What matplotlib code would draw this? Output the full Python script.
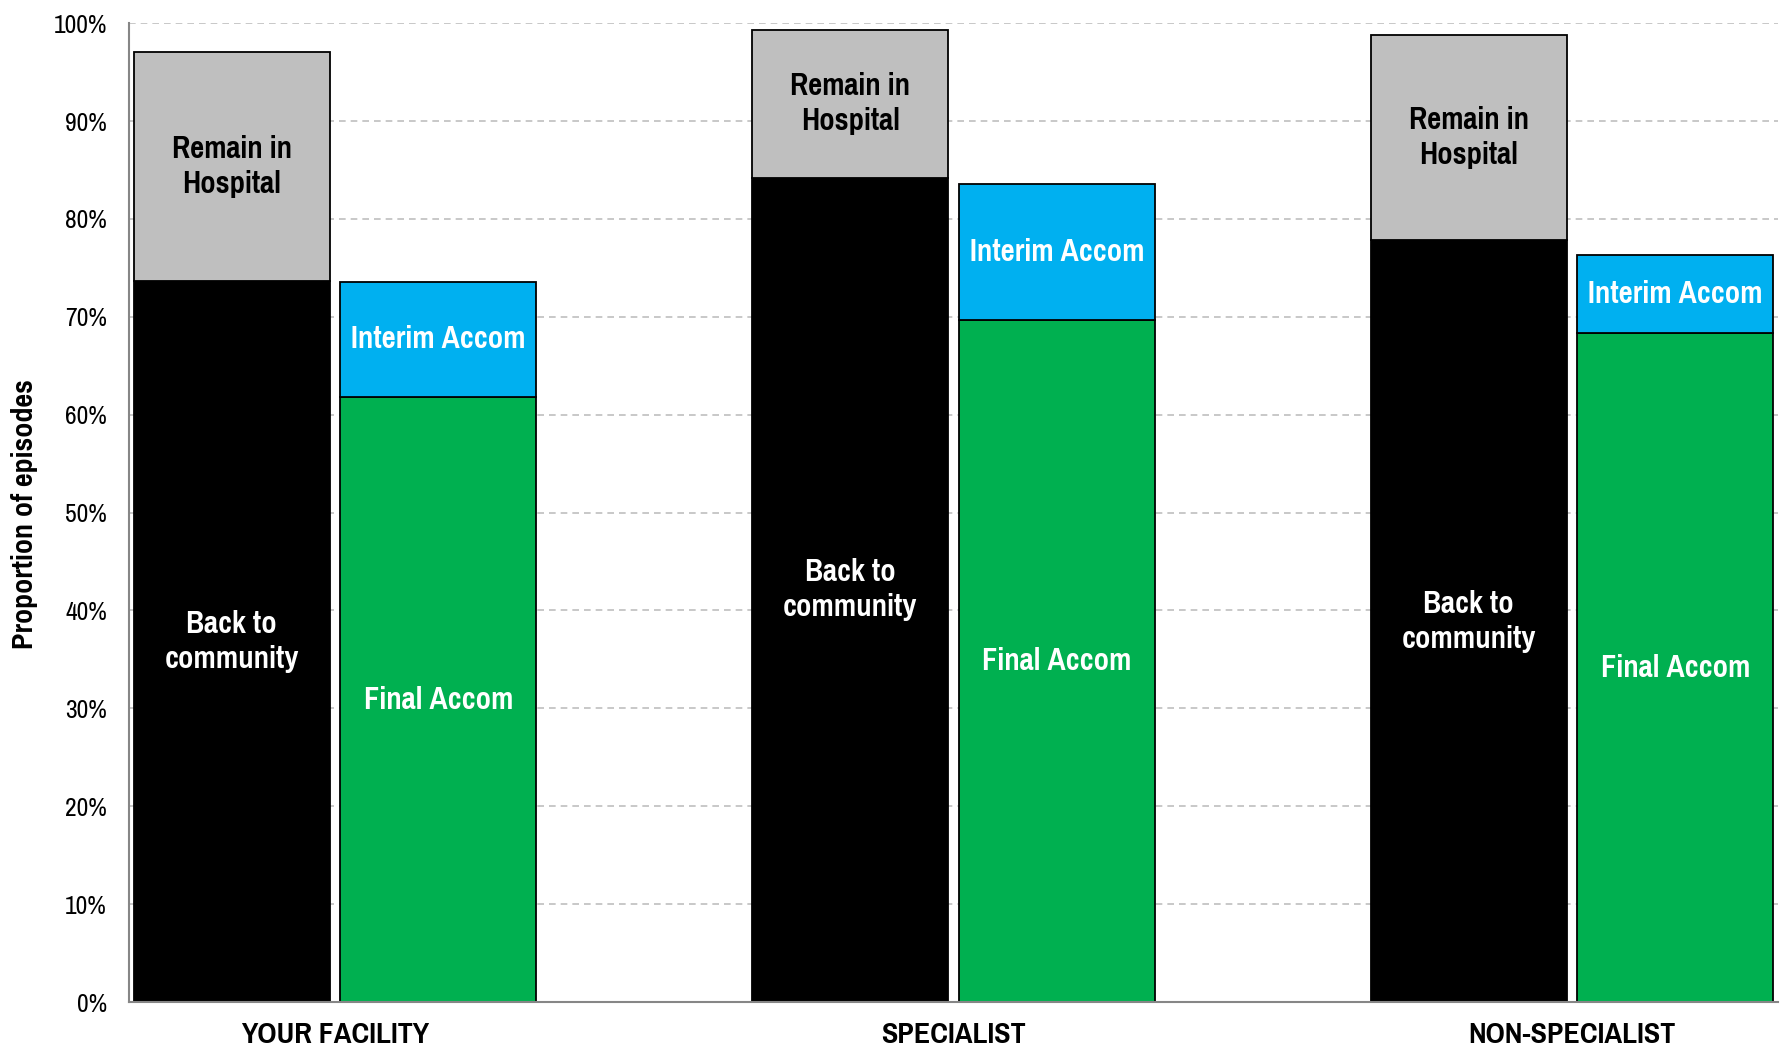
import matplotlib
matplotlib.use("Agg")
import matplotlib.pyplot as plt
import numpy as np

categories = ["YOUR FACILITY", "SPECIALIST", "NON-SPECIALIST"]
back_to_community = [73.7, 84.2, 77.8]
remain_in_hospital = [23.4, 15.1, 21.0]
final_accom = [61.8, 69.7, 68.3]
interim_accom = [11.8, 13.9, 8.0]
yticks = [0, 10, 20, 30, 40, 50, 60, 70, 80, 90, 100]

plt.rcParams["font.family"] = ["Pragati Narrow", "Liberation Sans", "DejaVu Sans"]

fig = plt.figure(figsize=(17.87, 10.52), dpi=100)
ax = fig.add_axes([0.0722, 0.0475, 0.9228, 0.9305])

x = np.arange(len(categories))
w = 0.317
off = 0.167
ec = dict(edgecolor="black", linewidth=1.3)
ax.bar(x - off, back_to_community, w, color="#000000", **ec)
ax.bar(x - off, remain_in_hospital, w, bottom=back_to_community, color="#BFBFBF", **ec)
ax.bar(x + off, final_accom, w, color="#00B050", **ec)
ax.bar(x + off, interim_accom, w, bottom=final_accom, color="#00B0F0", **ec)

lab = dict(ha="center", va="center", fontsize=24, fontweight="bold", linespacing=1.3)
for i in range(len(categories)):
    ax.text(x[i] - off, back_to_community[i] / 2, "Back to\ncommunity", color="white", **lab)
    ax.text(x[i] - off, back_to_community[i] + remain_in_hospital[i] / 2, "Remain in\nHospital", color="black", **lab)
    ax.text(x[i] + off, final_accom[i] / 2, "Final Accom", color="white", **lab)
    ax.text(x[i] + off, final_accom[i] + interim_accom[i] / 2, "Interim Accom", color="white", **lab)

ax.set_xlim(-0.333, 2.333)
ax.set_ylim(0, 100)
ax.set_yticks(yticks)
ax.set_yticklabels([f"{v}%" for v in yticks], fontsize=20)
ax.set_xticks(x)
ax.set_xticklabels(categories, fontsize=23.5, fontweight="bold")
ax.tick_params(axis="y", length=0, pad=16)
ax.tick_params(axis="x", length=0, pad=14)
ax.yaxis.grid(True, linestyle=(0, (4, 3)), color="#BFBFBF", linewidth=1.2)
ax.set_axisbelow(True)
for s in ["top", "right"]:
    ax.spines[s].set_visible(False)
for s in ["left", "bottom"]:
    ax.spines[s].set_color("#868686")
    ax.spines[s].set_linewidth(1.5)

fig.text(25 / 1787, 0.511, "Proportion of episodes", rotation=90, ha="center", va="center",
         fontsize=23.5, fontweight="bold")

fig.savefig("out.png", dpi=100)
